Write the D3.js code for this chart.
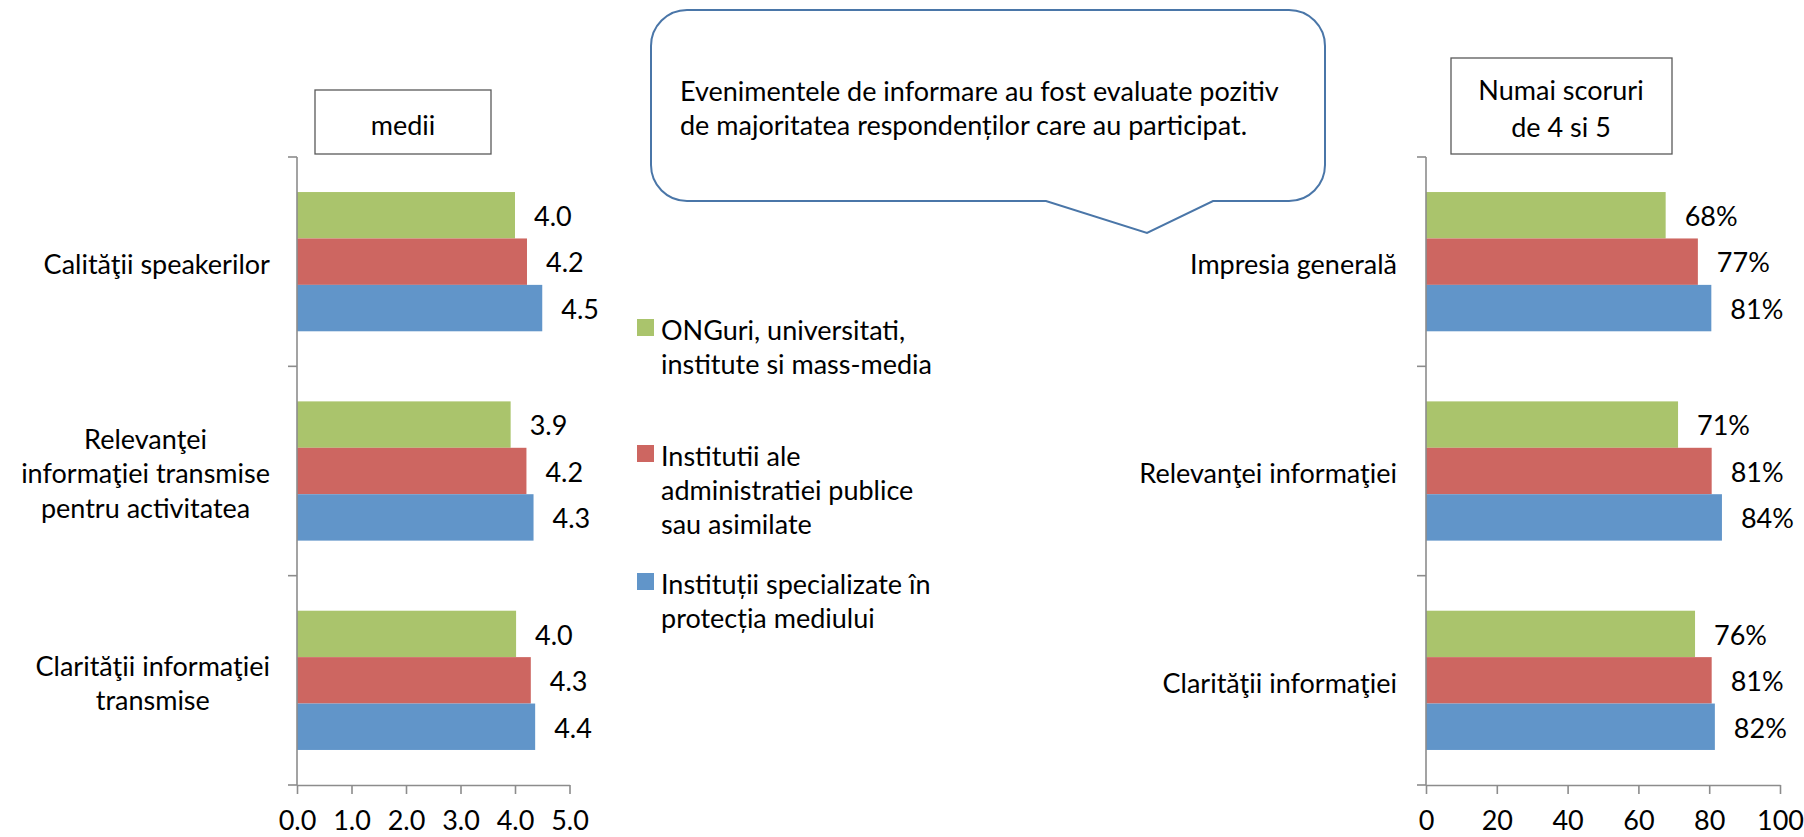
<!DOCTYPE html>
<html>
<head>
<meta charset="utf-8">
<script src="https://cdn.jsdelivr.net/npm/d3@7"></script>
<style>
body{margin:0;background:#fff}
text{font-family:Lato,"Open Sans",sans-serif;fill:#000}
</style>
</head>
<body>
<script>
// categories
var categoriesLeft=[["Calităţii speakerilor"],["Relevanţei","informaţiei transmise","pentru activitatea"],["Clarităţii informaţiei","transmise"]]
var categoriesRight=[["Impresia generală"],["Relevanţei informaţiei"],["Clarităţii informaţiei"]]
var seriesNames=[["ONGuri, universitati,","institute si mass-media"],["Institutii ale","administratiei publice","sau asimilate"],["Instituții specializate în","protecția mediului"]]
// medii (scale 1-5)
var ongMedii=[4.0,3.92,4.02]
var adminMedii=[4.22,4.21,4.29]
var specMedii=[4.5,4.34,4.37]
// % scores 4 and 5
var ongPct=[67.7,71.2,76.0]
var adminPct=[76.8,80.7,80.7]
var specPct=[80.6,83.6,81.6]
var ticksLeft=[0,1,2,3,4,5]
var ticksRight=[0,20,40,60,80,100]
var colors=["#aac46c","#cd6661","#6195c9"]

var fontSize=27
var axisColor="#8c8c8c"
var top0=157,bottom0=785

var svg=d3.select("body").append("svg")
          .attr("width",1804)
          .attr("height",837)
          .style("display","block")

var drawBars=function(cats,series,xDomain,xRange,ticks,tickFmt,labelFmt,catMode)
{
  var y0=d3.scaleBand().domain(d3.range(cats.length)).range([top0,bottom0]).padding(0)
  var y1=d3.scaleBand().domain(d3.range(series.length)).range([0,y0.bandwidth()])
           .paddingInner(0).paddingOuter(0.755)
  var x=d3.scaleLinear().domain(xDomain).range(xRange)
  var rows=[]
  for(var i=0;i<cats.length;i++){
    for(var j=0;j<series.length;j++){
      rows.push({cat:i,s:j,v:series[j][i]})
    }
  }
  var plot=svg.append("g")
  plot.selectAll("rect.bar")
      .data(rows)
      .enter()
      .append("rect")
      .attr("class","bar")
      .attr("x",x(0))
      .attr("y",function(d){return y0(d.cat)+y1(d.s)})
      .attr("width",function(d){return x(d.v)-x(0)})
      .attr("height",y1.bandwidth())
      .attr("fill",function(d){return colors[d.s]})
  plot.selectAll("text.val")
      .data(rows)
      .enter()
      .append("text")
      .attr("class","val")
      .attr("x",function(d){return x(d.v)+19})
      .attr("y",function(d){return y0(d.cat)+y1(d.s)+y1.bandwidth()/2})
      .attr("dy","0.4em")
      .attr("font-size",fontSize)
      .text(function(d){return labelFmt(d.v)})

  // x axis
  var xAxis=plot.append("g")
      .attr("transform","translate(0,"+bottom0+")")
      .call(d3.axisBottom(x).tickValues(ticks).tickFormat(tickFmt).tickSize(9).tickSizeOuter(0))
  xAxis.selectAll("path,line").attr("stroke",axisColor).attr("stroke-width",1.6)
  xAxis.selectAll("text")
       .attr("y",45).attr("dy",0)
       .attr("font-size",fontSize)
       .attr("font-family","Lato")
       .attr("fill","#000")

  // category axis
  plot.append("line")
      .attr("x1",x(0)).attr("x2",x(0))
      .attr("y1",top0).attr("y2",bottom0)
      .attr("stroke",axisColor).attr("stroke-width",1.6)
  var bounds=d3.range(cats.length).map(function(i){return y0(i)}).concat([bottom0])
  plot.selectAll("line.ctick")
      .data(bounds)
      .enter()
      .append("line")
      .attr("class","ctick")
      .attr("x1",x(0)-9).attr("x2",x(0))
      .attr("y1",function(d){return d}).attr("y2",function(d){return d})
      .attr("stroke",axisColor).attr("stroke-width",1.6)

  // category labels
  var lineH=34.5
  cats.forEach(function(lines,i){
    var cy=y0(i)+y0.bandwidth()/2+3
    var t=plot.append("text")
              .attr("font-size",fontSize)
              .attr("text-anchor",catMode=="end"?"end":"middle")
    lines.forEach(function(l,k){
      t.append("tspan")
       .attr("x",0)
       .attr("y",cy-(lines.length-1)/2*lineH+k*lineH)
       .attr("dy","0.35em")
       .text(l)
    })
    var w=t.node().getBBox().width
    var xr=x(0)-(catMode=="end"?29:27)
    t.selectAll("tspan").attr("x",catMode=="end"?xr:xr-w/2)
  })
}

drawBars(categoriesLeft,[ongMedii,adminMedii,specMedii],[0,5],[297,569.5],ticksLeft,
         d3.format(".1f"),d3.format(".1f"),"middle")
drawBars(categoriesRight,[ongPct,adminPct,specPct],[0,100],[1426,1780],ticksRight,
         d3.format("d"),function(v){return d3.format(".0f")(v)+"%"},"end")

// title boxes
svg.append("rect").attr("x",315).attr("y",90).attr("width",176).attr("height",64)
   .attr("fill","#fff").attr("stroke","#595959").attr("stroke-width",1.3)
svg.append("text").attr("x",403).attr("y",135).attr("text-anchor","middle")
   .attr("font-size",fontSize).text("medii")
svg.append("rect").attr("x",1451).attr("y",58).attr("width",221).attr("height",96)
   .attr("fill","#fff").attr("stroke","#595959").attr("stroke-width",1.3)
svg.append("text").attr("x",1561).attr("y",100).attr("text-anchor","middle")
   .attr("font-size",fontSize).text("Numai scoruri")
svg.append("text").attr("x",1561).attr("y",137).attr("text-anchor","middle")
   .attr("font-size",fontSize).text("de 4 si 5")

// callout bubble
var L=651,R=1325,T=10,B=201,r=36
var p=d3.path()
p.moveTo(L+r,T)
p.lineTo(R-r,T)
p.arcTo(R,T,R,T+r,r)
p.lineTo(R,B-r)
p.arcTo(R,B,R-r,B,r)
p.lineTo(1213,B)
p.lineTo(1147,233)
p.lineTo(1046,B)
p.lineTo(L+r,B)
p.arcTo(L,B,L,B-r,r)
p.lineTo(L,T+r)
p.arcTo(L,T,L+r,T,r)
p.closePath()
svg.append("path").attr("d",p.toString())
   .attr("fill","#fff").attr("stroke","#4a76a8").attr("stroke-width",2)
var note=["Evenimentele de informare au fost evaluate pozitiv","de majoritatea respondenților care au participat."]
svg.selectAll("text.note")
   .data(note)
   .enter()
   .append("text")
   .attr("class","note")
   .attr("x",680)
   .attr("y",function(d,i){return 101+i*34})
   .attr("font-size",fontSize)
   .text(function(d){return d})

// legend
var legendY=[340,466,594]
var legend=svg.append("g")
seriesNames.forEach(function(lines,i){
  legend.append("rect")
        .attr("x",637).attr("y",legendY[i]-21)
        .attr("width",17).attr("height",17)
        .attr("fill",colors[i])
  lines.forEach(function(l,k){
    legend.append("text")
          .attr("x",661)
          .attr("y",legendY[i]+k*34)
          .attr("font-size",fontSize)
          .text(l)
  })
})
</script>
</body>
</html>
